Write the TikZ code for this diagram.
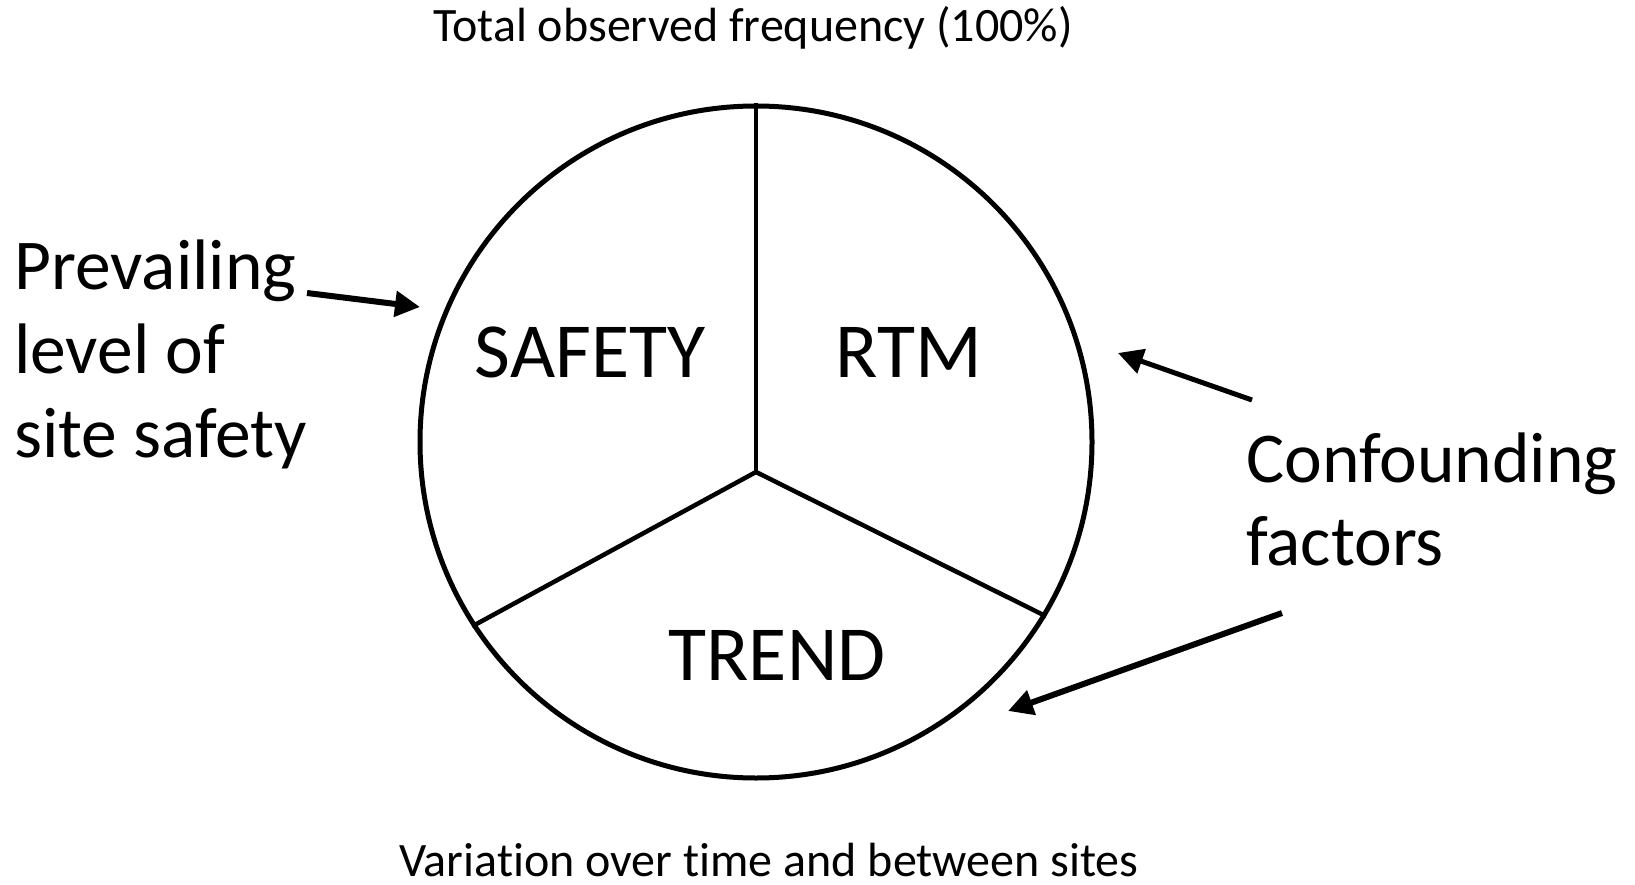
\documentclass[tikz,border=0pt]{standalone}
\usepackage{fontspec}
\setmainfont[Ligatures=NoCommon]{Carlito}
\usetikzlibrary{arrows.meta}
\begin{document}
\begin{tikzpicture}[x=1pt,y=-1pt,
  lbl/.style={inner sep=0pt, anchor=base},
  big/.style={lbl, font=\fontsize{78}{90}\selectfont},
  small/.style={lbl, font=\fontsize{48}{57}\selectfont},
  side/.style={inner sep=0pt, anchor=base west},
  arr/.style={line width=6pt, -{Triangle[length=25pt,width=25pt]}},
  spoke/.style={line width=4.5pt}
]
\useasboundingbox (0,0) rectangle (1635,885);
\fill[white] (0,0) rectangle (1635,885);
\node[circle, draw, line width=5pt, minimum size=672pt, inner sep=0pt] (pie) at (756,442) {};
\coordinate (hub) at (756,472);
\draw[spoke] (hub) -- (pie.north);
\draw[spoke] (hub) -- (pie.213.7);
\draw[spoke] (hub) -- (pie.-31);

\node[big] (safety) at (590,377) {SAFETY};
\node[big] (rtm) at (909,377) {RTM};
\node[big] (trend) at (777,680) {TREND};

\node[small] (total) at (753,42) {Total observed frequency (100\%)};
\node[small] (variation) at (769,876) {Variation over time and between sites};

\node[side] (prev) at (14,290) {\fontsize{71.5}{84}\selectfont\begin{tabular}[t]{@{}l@{}}Prevailing\\level of\\site safety\end{tabular}};
\node[side] (conf) at (1246,482) {\fontsize{71.5}{83}\selectfont\begin{tabular}[t]{@{}l@{}}Confounding\\factors\end{tabular}};

\coordinate (a1s) at (307,293);
\coordinate (a1e) at (420,307);
\coordinate (a2s) at (1252,400);
\coordinate (a2e) at (1118,353);
\coordinate (a3s) at (1282,613);
\coordinate (a3e) at (1008,711);
\draw[arr] (a1s) -- (a1e);
\draw[arr, line width=5pt] (a2s) -- (a2e);
\draw[arr] (a3s) -- (a3e);
\end{tikzpicture}
\end{document}
